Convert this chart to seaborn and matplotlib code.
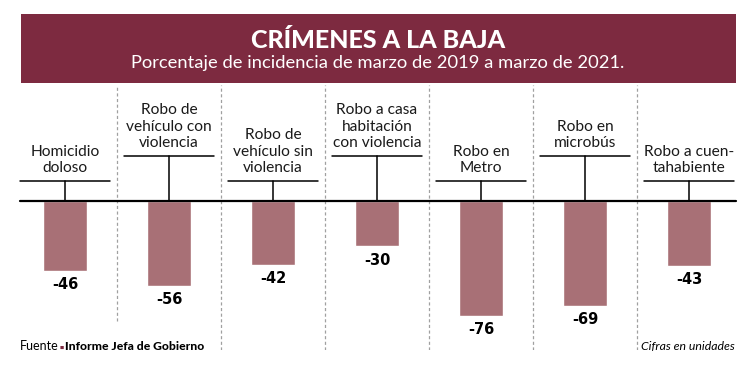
import matplotlib
matplotlib.use("Agg")
import matplotlib.pyplot as plt
import seaborn as sns
import pandas as pd
from matplotlib.patches import Rectangle

# Data
categories = [
    "Homicidio\ndoloso",
    "Robo de\nvehículo con\nviolencia",
    "Robo de\nvehículo sin\nviolencia",
    "Robo a casa\nhabitación\ncon violencia",
    "Robo en\nMetro",
    "Robo en\nmicrobús",
    "Robo a cuen-\ntahabiente",
]
values = [-46, -56, -42, -30, -76, -69, -43]

title = "CRÍMENES A LA BAJA"
subtitle = "Porcentaje de incidencia de marzo de 2019 a marzo de 2021."
source_label = "Fuente"
source_name = "Informe Jefa de Gobierno"
units_note = "Cifras en unidades"

BANNER = "#7d2a40"
BAR = "#a87076"

sns.set_theme(style="white")
plt.rcParams["font.family"] = ["Lato", "DejaVu Sans"]

W, H = 750, 376
fig = plt.figure(figsize=(W / 100, H / 100), dpi=100)

# main axes: pixel box x 13..741, y 85..350
ax = fig.add_axes([13 / W, 1 - 350 / H, 728 / W, 265 / H])
df = pd.DataFrame({"cat": categories, "val": values})
sns.barplot(data=df, x="cat", y="val", color=BAR, saturation=1, width=0.43,
            ax=ax, zorder=2)
px_per_unit = 1.515
ax.set_xlim(-0.5, len(categories) - 0.5)
ax.set_ylim(-149 / px_per_unit, 116 / px_per_unit)
ax.set_axis_off()

# baseline
ax.axhline(0, xmin=7 / 728, xmax=723 / 728, color="black", lw=1.6, zorder=3)

# dashed separators (the first one stops above the source line)
for i in range(len(categories) - 1):
    ymin = 29 / 265 if i == 0 else 0
    ax.axvline(i + 0.5, ymin=ymin, color="#a0a0a0", lw=0.9,
               ls=(0, (2.5, 2)), zorder=1)

# leader lines and category labels
low, high = 20 / px_per_unit, 45 / px_per_unit
for i, (cat, v) in enumerate(zip(categories, values)):
    lvl = low if i % 2 == 0 else high
    ax.plot([i - 0.435, i + 0.435], [lvl, lvl], color="black", lw=1.1, zorder=3)
    ax.plot([i, i], [0, lvl], color="black", lw=1.1, zorder=3)
    ax.annotate(cat, xy=(i, lvl), xytext=(0, 4.5), textcoords="offset points",
                ha="center", va="bottom", fontsize=11.2, color="#1a1a1a",
                linespacing=1.2)
    ax.annotate(f"{v}", xy=(i, v), xytext=(0, -4.5), textcoords="offset points",
                ha="center", va="top", fontsize=10.5, fontweight="bold",
                family="DejaVu Sans", color="black")

# overlay axes in pixel units for banner and footer
ov = fig.add_axes([0, 0, 1, 1], zorder=-1)
ov.set_xlim(0, W)
ov.set_ylim(H, 0)
ov.set_axis_off()
ov.add_patch(Rectangle((21, 14), 715, 69, color=BANNER, lw=0))
ov.text(378, 47.5, title, ha="center", va="baseline", color="white",
        fontsize=18, fontweight="black")
ov.text(378, 68, subtitle, ha="center", va="baseline", color="white",
        fontsize=13.2)

t1 = ov.text(20, 350, source_label, ha="left", va="baseline", fontsize=9,
             color="black")
ov.annotate("■", xy=(1, 0.38), xycoords=t1, xytext=(0.6, 0),
            textcoords="offset points", ha="left", va="center",
            fontsize=3.2, color=BANNER, family="DejaVu Sans")
ov.annotate(source_name, xy=(1, 0), xycoords=t1, xytext=(4.2, 0),
            textcoords="offset points", ha="left", va="bottom", fontsize=8.7,
            fontweight="black", color="black")
ov.text(735, 350, units_note, ha="right", va="baseline", fontsize=8.8,
        style="italic", color="black")

fig.savefig("out.png", dpi=100, facecolor="white")
